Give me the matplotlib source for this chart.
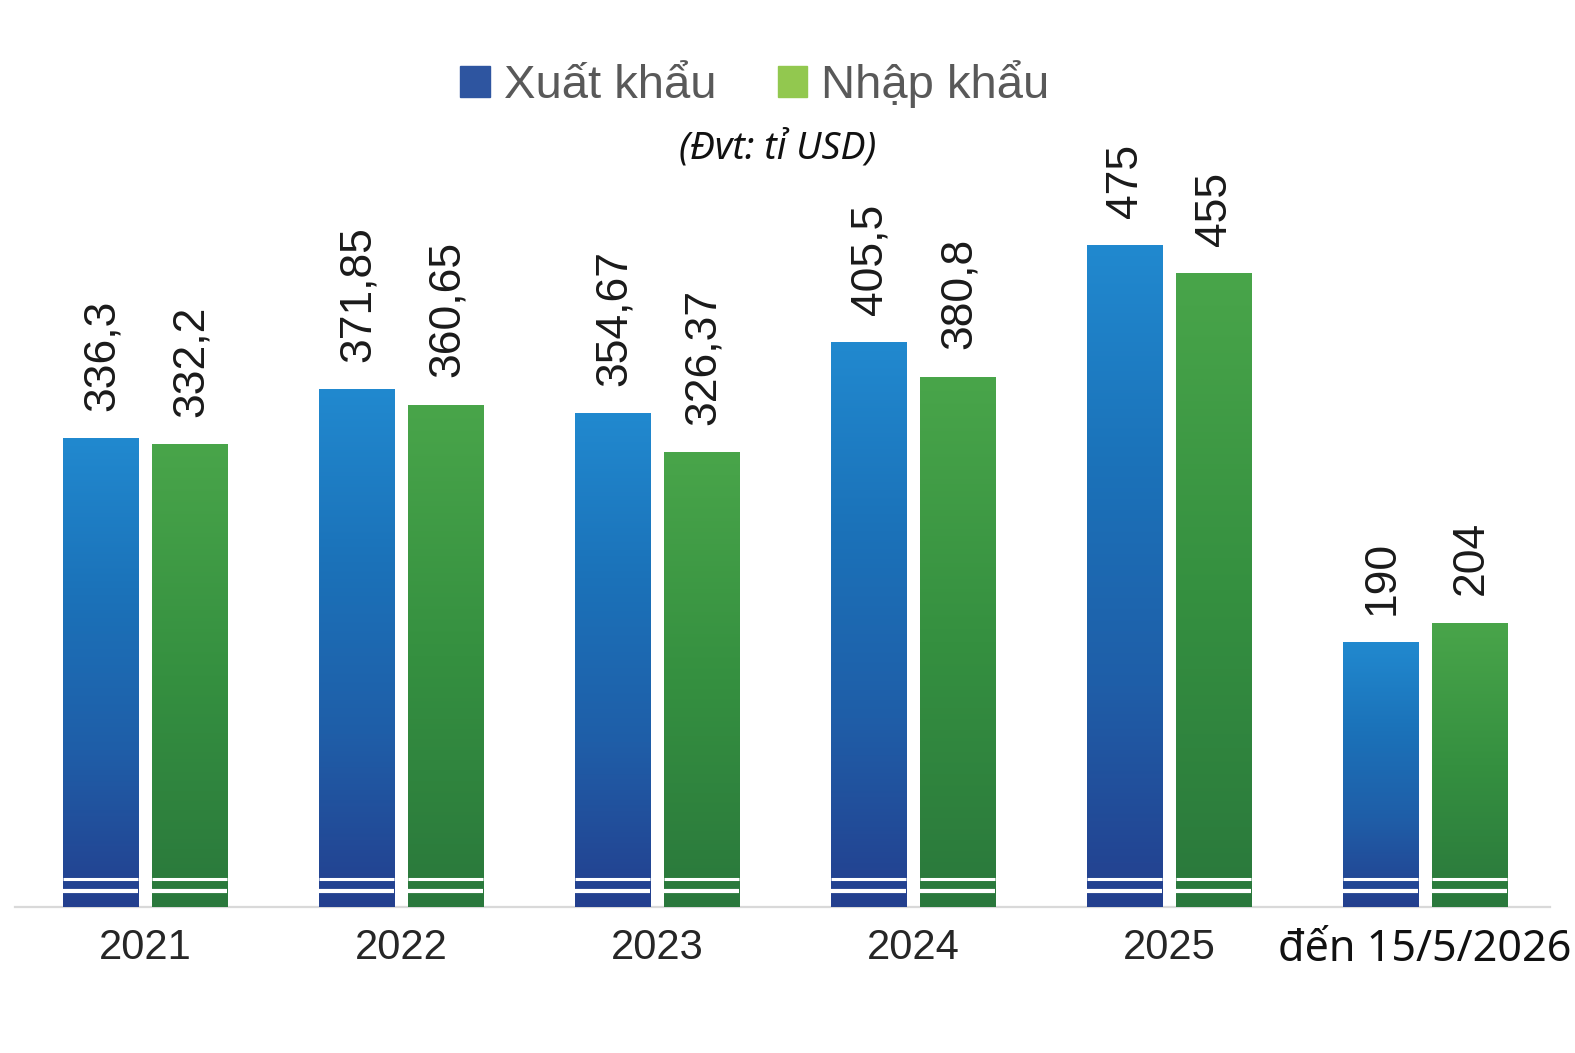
import numpy as np
import matplotlib
matplotlib.use("Agg")
import matplotlib.pyplot as plt
from matplotlib import font_manager
from matplotlib.colors import LinearSegmentedColormap
from matplotlib.patches import Patch

# data
nam = ["2021", "2022", "2023", "2024", "2025", "đến 15/5/2026"]
xuat_khau = [336.3, 371.85, 354.67, 405.5, 475, 190]
nhap_khau = [332.2, 360.65, 326.37, 380.8, 455, 204]
nhan_xk = ["336,3", "371,85", "354,67", "405,5", "475", "190"]
nhan_nk = ["332,2", "360,65", "326,37", "380,8", "455", "204"]

co_font = {f.name for f in font_manager.fontManager.ttflist}
hep = "Liberation Sans Narrow" if "Liberation Sans Narrow" in co_font else "Liberation Sans"

cmap_xanh = LinearSegmentedColormap.from_list("xk", ["#243f8e", "#1f5ea8", "#1b72b9", "#2189cf"])
cmap_la = LinearSegmentedColormap.from_list("nk", ["#2a783c", "#359040", "#49a54a"])
grad = np.linspace(0, 1, 256).reshape(-1, 1)

fig = plt.figure(figsize=(15.75, 10.53), dpi=100)
# truc: day o y=907px, tu x=15px den 1550px
ax = fig.add_axes([15 / 1575, 146 / 1053, 1535 / 1575, 835 / 1053])
ax.set_xlim(-0.508, 5.488)
ax.set_ylim(0, 600)

w = 0.293
off = 0.174
vach = [20.1, 11.5]  # 2 vach trang cat ngang chan cot
for i in range(len(nam)):
    for x, v, cm, lb in [(i - off, xuat_khau[i], cmap_xanh, nhan_xk[i]),
                         (i + off, nhap_khau[i], cmap_la, nhan_nk[i])]:
        ax.imshow(grad, cmap=cm, origin="lower", aspect="auto",
                  extent=[x - w / 2, x + w / 2, 0, v], zorder=2)
        ax.hlines(vach[0], x - w / 2, x + w / 2, color="white", lw=2.2, zorder=3)
        ax.hlines(vach[1], x - w / 2, x + w / 2, color="white", lw=3.0, zorder=3)
        ax.annotate(lb, (x, v), xytext=(1, 20), textcoords="offset points",
                    rotation=90, ha="center", va="bottom", fontsize=32,
                    family=hep, color="#1a1a1a", annotation_clip=False)

ax.set_xticks(range(len(nam)))
ax.set_xticklabels(nam, fontsize=30, family=hep, color="#262626")
nhan = ax.get_xticklabels()[-1]
nhan.set_fontfamily("Noto Sans")
nhan.set_fontsize(31)
nhan.set_color("#111111")
ax.tick_params(axis="x", length=0, pad=15)
ax.set_yticks([])
for s in ["top", "left", "right"]:
    ax.spines[s].set_visible(False)
ax.spines["bottom"].set_color("#d9d9d9")
ax.spines["bottom"].set_linewidth(1.6)
ax.spines["bottom"].set_zorder(1)

handles = [Patch(color="#2e55a0", label="Xuất khẩu"),
           Patch(color="#92c84f", label="Nhập khẩu")]
fig.legend(handles=handles, ncol=2, loc="center", bbox_to_anchor=(755 / 1575, 1 - 84 / 1053),
           frameon=False, prop={"family": hep, "size": 34}, labelcolor="#595959",
           handlelength=0.62, handleheight=0.62, handletextpad=0.3, columnspacing=1.3)
fig.text(778 / 1575, 1 - 148 / 1053, "(Đvt: tỉ USD)", ha="center", va="center",
         fontsize=27, style="italic", family="Noto Sans", color="#111111")

fig.savefig("out.png", dpi=100)
